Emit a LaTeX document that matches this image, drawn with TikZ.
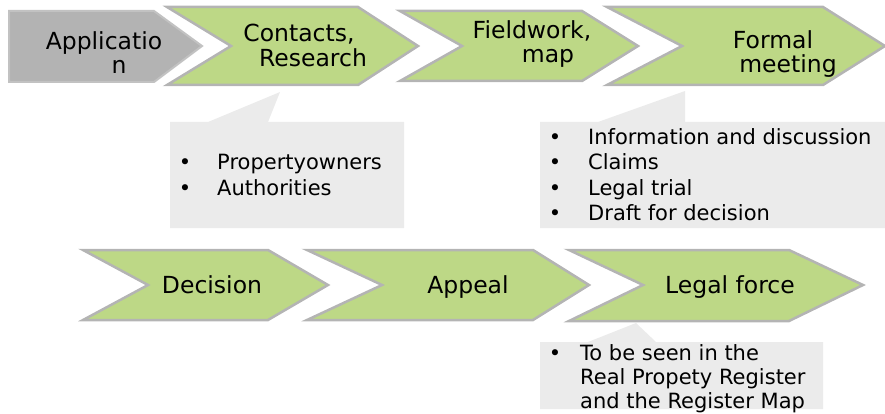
\documentclass[tikz,border=0pt]{standalone}
\usepackage{fontspec}
\setmainfont{DejaVu Sans}
\usetikzlibrary{positioning}
\definecolor{leaf}{HTML}{BDD886}
\definecolor{rim}{HTML}{B4B4B4}
\definecolor{appgray}{HTML}{B3B3B3}
\definecolor{notebg}{HTML}{EBEBEB}
\tikzset{
  steplabel/.style={anchor=base, inner sep=0pt, font=\fontsize{23.5}{25}\selectfont},
  notebul/.style={anchor=base, inner sep=0pt, font=\fontsize{21}{25}\selectfont},
  notetext/.style={anchor=base west, inner sep=0pt, font=\fontsize{21}{25}\selectfont},
}
\begin{document}
\begin{tikzpicture}[x=1pt, y=-1pt]

	\useasboundingbox (0,0) rectangle (885,414);

	% first step, no notch
	\draw[line width=2pt, fill=appgray, draw=appgray!80!white] (9,11) -- (154,11) -- (202,46) -- (154,82) -- (9,82) -- cycle;

	% chevrons: left/notch/right/tip/top/mid/bottom
	\foreach \l/\n/\r/\t/\top/\mid/\bot in {167/231/358/418/7/46/85, 400/462/582/638/11/46/81, 607/682/823/885/7/46/85, 83/148/268/328/250/285/320, 307/382/533/589/250/285/320, 569/643/789/863/250/285/321} {
		\draw[line width=2.5pt, fill=leaf, draw=rim, line join=miter] (\l,\top) -- (\r,\top) -- (\t,\mid) -- (\r,\bot) -- (\l,\bot) -- (\n,\mid) -- cycle;
	}

	% callouts
	\fill[notebg] (170,122) -- (208,122) -- (280,92) -- (268,122) -- (404,122) -- (404,228) -- (170,228) -- cycle;
	\fill[notebg] (540,122) -- (598,122) -- (685,91) -- (685,122) -- (885,122) -- (885,228) -- (540,228) -- cycle;
	\fill[notebg] (540,342) -- (588,342) -- (636,323) -- (656,342) -- (823,342) -- (823,409) -- (540,409) -- cycle;

	% step labels
	\node[steplabel] (appl) at (104,50) {Applicatio};
	\node[steplabel] (appl2) at (119,74) {n};
	\node[steplabel] (cont) at (299,42) {Contacts,};
	\node[steplabel] (cont2) at (313,67) {Research};
	\node[steplabel] (field) at (532,39) {Fieldwork,};
	\node[steplabel] (field2) at (548,63) {map};
	\node[steplabel] (formal) at (773,49) {Formal};
	\node[steplabel] (formal2) at (788,73) {meeting};
	\node[steplabel] (dec) at (212,293) {Decision};
	\node[steplabel] (app) at (468,293) {Appeal};
	\node[steplabel] (legal) at (730,293) {Legal force};

	% callout texts
	\foreach \txt [count=\i] in {Propertyowners, Authorities} {
		\node[notebul] (pb\i) at (185,145+25*\i) {•};
		\node[notetext] (pt\i) at (217,145+25*\i) {\txt};
	}
	\foreach \txt [count=\i] in {Information and discussion, Claims, Legal trial, Draft for decision} {
		\node[notebul] (mb\i) at (555,120+25*\i) {•};
		\node[notetext] (mt\i) at (588,120+25*\i) {\txt};
	}
	\node[notebul] (lb1) at (555,360) {•};
	\foreach \txt [count=\i] in {To be seen in the, Real Propety Register, and the Register Map} {
		\node[notetext] (lt\i) at (580,336+24*\i) {\txt};
	}

\end{tikzpicture}
\end{document}
